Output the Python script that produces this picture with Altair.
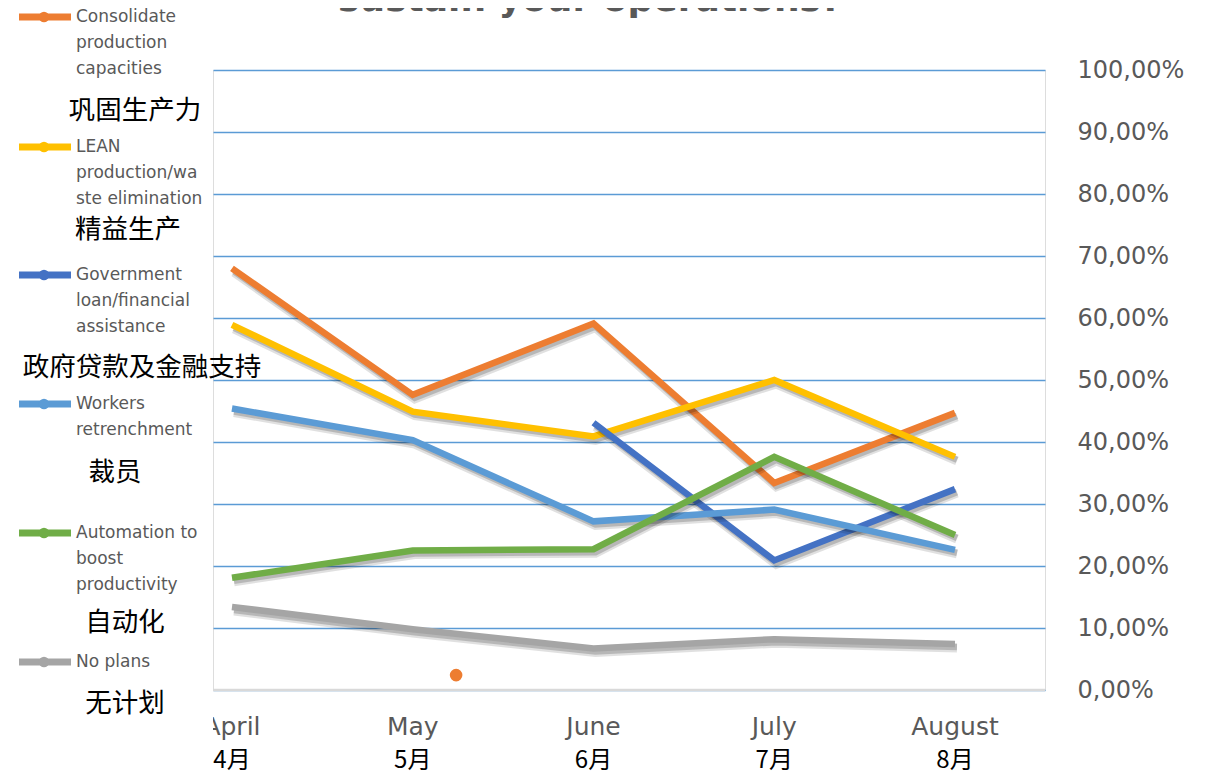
import altair as alt
import pandas as pd

# ---------------- data ----------------
months_en = ["April", "May", "June", "July", "August"]
months_zh = ["4月", "5月", "6月", "7月", "8月"]

series_en = [
    ["Consolidate", "production", "capacities"],
    ["LEAN", "production/wa", "ste elimination"],
    ["Government", "loan/financial", "assistance"],
    ["Workers", "retrenchment"],
    ["Automation to", "boost", "productivity"],
    ["No plans"],
]
series_zh = ["巩固生产力", "精益生产", "政府贷款及金融支持", "裁员", "自动化", "无计划"]
series_colors = ["#ED7D31", "#FFC000", "#4472C4", "#5B9BD5", "#70AD47", "#A5A5A5"]

consolidate = [0.680, 0.476, 0.591, 0.334, 0.447]
lean = [0.589, 0.449, 0.409, 0.500, 0.376]
government = [None, None, 0.431, 0.209, 0.324]
workers = [0.454, 0.403, 0.272, 0.291, 0.226]
automation = [0.181, 0.225, 0.227, 0.376, 0.250]
no_plans = [0.134, 0.098, 0.067, 0.082, 0.074]
series_values = [consolidate, lean, government, workers, automation, no_plans]

stray_marker_pos = [1.24]
stray_marker_value = [0.024]

y_ticks = [0.0, 0.1, 0.2, 0.3, 0.4, 0.5, 0.6, 0.7, 0.8, 0.9, 1.0]

# ---------------- layout ----------------
W, H = 832, 620
PAD_L, PAD_T = 205, 62
OX, OY = 213, 70  # page position of the plot origin

GRAY = "#595959"
x_scale = alt.Scale(domain=[-0.105, 4.498], nice=False, zero=False)
y_scale = alt.Scale(domain=[0, 1], nice=False, zero=True)
y_axis = alt.Axis(
    orient="right", values=y_ticks, grid=True, gridColor="#5B9BD5", gridWidth=1.6,
    domain=False, ticks=False, labelPadding=32, labelAlign="left",
    labelBaseline="middle", labelFont="DejaVu Sans", labelFontSize=24,
    labelColor=GRAY, title=None,
    labelExpr="replace(format(datum.value * 100, '.2f'), '.', ',') + '%'",
)


def X():
    return alt.X("pos:Q", scale=x_scale, axis=None)


def Y():
    return alt.Y("value:Q", scale=y_scale, axis=y_axis)


layers = []

# axis + grid layer
axis_df = pd.DataFrame({"pos": [0, 4], "value": [0.0, 1.0]})
layers.append(alt.Chart(axis_df).mark_point(opacity=0).encode(x=X(), y=Y()))

# gray baseline at 0 %
layers.append(
    alt.Chart(pd.DataFrame({"value": [0.0]}))
    .mark_rule(color="#D9D9D9", strokeWidth=2.5)
    .encode(y=Y())
)

# series lines with shadow
for name, vals, col in zip(series_zh, series_values, series_colors):
    rows = [
        {"pos": i, "month": months_en[i], "value": v}
        for i, v in enumerate(vals) if v is not None
    ]
    d = pd.DataFrame(rows)
    layers.append(
        alt.Chart(d).mark_line(color="#000000", opacity=0.12, strokeWidth=9,
                               xOffset=2, yOffset=4)
        .encode(x=X(), y=Y())
    )
    layers.append(
        alt.Chart(d).mark_line(color="#000000", opacity=0.18, strokeWidth=6.5,
                               xOffset=2, yOffset=3)
        .encode(x=X(), y=Y())
    )
    layers.append(
        alt.Chart(d).mark_line(color=col, strokeWidth=6.5).encode(x=X(), y=Y())
    )

# stray orange marker
layers.append(
    alt.Chart(pd.DataFrame({"pos": stray_marker_pos, "value": stray_marker_value}))
    .mark_point(filled=True, color="#ED7D31", size=160, opacity=1)
    .encode(x=X(), y=Y())
)

# month labels
mdf = pd.DataFrame({"pos": list(range(len(months_en))), "en": months_en, "zh": months_zh})
layers.append(
    alt.Chart(mdf).mark_text(font="DejaVu Sans", fontSize=25, color=GRAY,
                             baseline="middle", align="center")
    .encode(x=X(), y=alt.value(727 - OY), text="en:N")
)
layers.append(
    alt.Chart(mdf).mark_text(font="Noto Sans CJK SC", fontSize=24, color="#000000",
                             baseline="middle", align="center")
    .encode(x=X(), y=alt.value(761 - OY), text="zh:N")
)

# white box of the legend area hiding the start of "April"
layers.append(
    alt.Chart(pd.DataFrame({"a": [0]})).mark_rect(color="white")
    .encode(x=alt.value(8 - OX - 10), x2=alt.value(0), y=alt.value(640), y2=alt.value(680))
)

# legend
sym_y = [17, 147, 275, 404, 533, 662]
zh_y = [111, 230, 368, 473, 623, 704]
zh_x = [135, 128, 142, 115, 125, 125]
line_step = 25.8
one = pd.DataFrame({"a": [0]})
for k in range(len(series_zh)):
    col = series_colors[k]
    sy = sym_y[k] - OY
    layers.append(
        alt.Chart(one).mark_rule(color=col, strokeWidth=7)
        .encode(x=alt.value(19 - OX), x2=alt.value(71 - OX), y=alt.value(sy))
    )
    layers.append(
        alt.Chart(one).mark_point(filled=True, color=col, size=110, opacity=1)
        .encode(x=alt.value(44 - OX), y=alt.value(sy))
    )
    for j, txt in enumerate(series_en[k]):
        layers.append(
            alt.Chart(one).mark_text(text=txt, font="DejaVu Sans", fontSize=17,
                                     color=GRAY, align="left", baseline="middle")
            .encode(x=alt.value(76 - OX), y=alt.value(sy + j * line_step))
        )
    layers.append(
        alt.Chart(one).mark_text(text=series_zh[k], font="Noto Sans CJK SC", fontSize=26.5,
                                 color="#000000", align="center", baseline="middle")
        .encode(x=alt.value(zh_x[k] - OX), y=alt.value(zh_y[k] - OY))
    )

# partially visible title at the very top
layers.append(
    alt.Chart(one).mark_text(text="sustain your operations?", font="DejaVu Sans",
                             fontWeight="bold", fontSize=36, color=GRAY,
                             align="center", baseline="alphabetic")
    .encode(x=alt.value(590 - OX), y=alt.value(-59))
)

chart = (
    alt.layer(*layers)
    .properties(
        width=W, height=H,
        autosize=alt.AutoSizeParams(type="none"),
        padding={"left": PAD_L, "top": PAD_T, "right": 150, "bottom": 85},
    )
    .configure_view(stroke=None)
    .configure(background="white")
)

chart.save("out.html", embed_options={"renderer": "svg", "actions": False})
